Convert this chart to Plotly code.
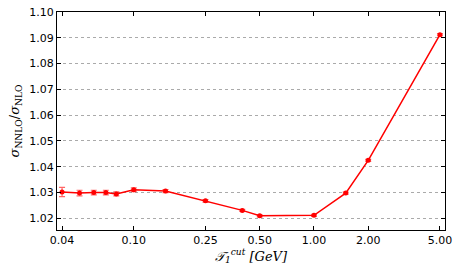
import plotly.graph_objects as go

tau_cut = [0.04, 0.05, 0.06, 0.07, 0.08, 0.10, 0.15, 0.25, 0.40, 0.50, 1.00, 1.50, 2.00, 5.00]
ratio = [1.0302, 1.0298, 1.0300, 1.0300, 1.0295, 1.0311, 1.0306, 1.0268, 1.0231, 1.0210, 1.0212, 1.0298, 1.0425, 1.0912]
ratio_err = [0.0018, 0.0011, 0.0009, 0.0009, 0.0008, 0.0007, 0.0006, 0.0005, 0.0004, 0.0004, 0.0004, 0.0004, 0.0004, 0.0004]
x_tick_vals = [0.04, 0.10, 0.25, 0.50, 1.00, 2.00, 5.00]
x_tick_text = ["0.04", "0.10", "0.25", "0.50", "1.00", "2.00", "5.00"]
y_tick_vals = [1.02, 1.03, 1.04, 1.05, 1.06, 1.07, 1.08, 1.09, 1.10]

fig = go.Figure()
fig.add_trace(go.Scatter(
    x=tau_cut, y=ratio,
    mode="lines+markers",
    line=dict(color="#ff0000", width=1.5),
    marker=dict(color="#ff0000", size=5),
    error_y=dict(type="data", array=ratio_err, color="rgba(255,0,0,0.6)", thickness=1.2, width=3),
    showlegend=False,
))

fig.update_layout(
    template="none",
    width=457, height=273,
    margin=dict(l=57, r=12, t=12, b=43),
    paper_bgcolor="white", plot_bgcolor="white",
    font=dict(family="DejaVu Sans", size=11, color="black"),
    xaxis=dict(
        type="log", range=[-1.426, 0.727], automargin=False,
        tickvals=x_tick_vals, ticktext=x_tick_text,
        ticks="inside", ticklen=4, tickcolor="black",
        showline=True, linecolor="black", linewidth=1, mirror="ticks",
        showgrid=False, zeroline=False,
        title=dict(text="<i>𝒯<sub>1</sub><sup>cut</sup> [GeV]</i>",
                   font=dict(family="DejaVu Serif", size=13), standoff=4),
    ),
    yaxis=dict(
        range=[1.0155, 1.10], automargin=False,
        tickvals=y_tick_vals, tickformat=".2f",
        ticks="inside", ticklen=4, tickcolor="black",
        showline=True, linecolor="black", linewidth=1, mirror="ticks",
        showgrid=True, gridcolor="#aaaaaa", griddash="dot", gridwidth=1,
        zeroline=False,
        title=dict(text="<i>σ</i><sub>NNLO</sub>/<i>σ</i><sub>NLO</sub>",
                   font=dict(family="DejaVu Serif", size=13), standoff=6),
    ),
)

fig.write_html("out.html", config={"displayModeBar": False},
               post_script="document.body.style.margin='0';document.body.style.overflow='hidden';")
